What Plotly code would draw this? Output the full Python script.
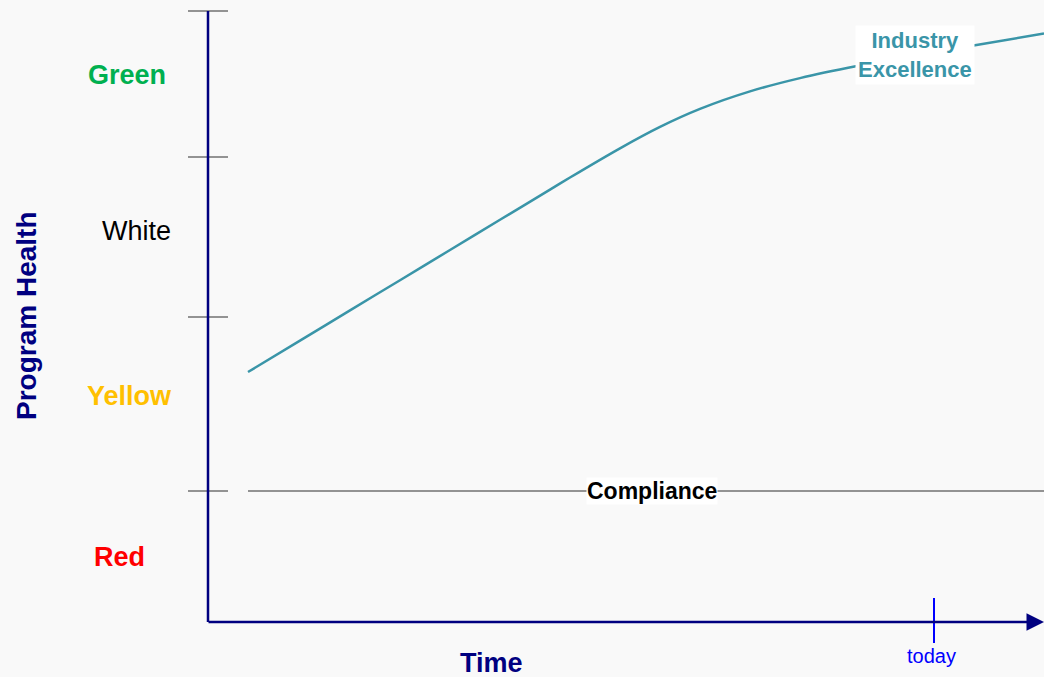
import plotly.graph_objects as go

# ---- data (diagram units: time along x, program health along y; y grows downward) ----
curve_time = [248, 300, 350, 400, 450, 500, 550, 570, 620, 660, 700, 750, 800, 857, 915, 975, 1044]
curve_health = [372, 340.6, 310.4, 280.2, 250, 219.8, 189.6, 177.5, 148.3, 126.9, 108.9, 91.4, 78.1, 66.1, 55.7, 45.2, 33.5]

band_bounds = [11, 157, 317, 491]          # tick marks on the health axis
band_names = ["Green", "White", "Yellow", "Red"]
band_label_y = [75, 231, 396, 557]
band_label_x = [127, 136, 129, 119]
band_colors = ["#00B050", "#000000", "#FFC000", "#FF0000"]
band_bold = [True, False, True, True]

compliance_level = 491
compliance_start, compliance_end = 248, 1044
today_time = 934
axis_origin_time, axis_end_time = 208, 1044
axis_top_health, axis_base_health = 11, 622

NAVY = "#000080"
TEAL = "#3A95A8"
FONT = "Liberation Sans, Arial, sans-serif"

fig = go.Figure()

# health curve
fig.add_trace(go.Scatter(x=curve_time, y=curve_health, mode="lines",
                         line=dict(color=TEAL, width=2.5, shape="spline", smoothing=0.8),
                         hoverinfo="skip"))

# compliance line
fig.add_trace(go.Scatter(x=[compliance_start, compliance_end], y=[compliance_level, compliance_level],
                         mode="lines", line=dict(color="#707070", width=1.3), hoverinfo="skip"))

shapes = []
# band tick marks
for b in band_bounds:
    shapes.append(dict(type="line", xref="x", yref="y", x0=axis_origin_time - 20, x1=axis_origin_time + 20,
                       y0=b, y1=b, line=dict(color="#707070", width=1.3)))
# y axis
shapes.append(dict(type="line", xref="x", yref="y", x0=axis_origin_time, x1=axis_origin_time,
                   y0=axis_top_health, y1=axis_base_health, line=dict(color=NAVY, width=2.5)))
# today tick
shapes.append(dict(type="line", xref="x", yref="y", x0=today_time, x1=today_time,
                   y0=axis_base_health - 24, y1=axis_base_health + 21, line=dict(color="#0000FF", width=2)))

annotations = []
# x axis with arrow
annotations.append(dict(x=axis_end_time, y=axis_base_health, ax=axis_origin_time - 1, ay=axis_base_health,
                        xref="x", yref="y", axref="x", ayref="y", text="", showarrow=True,
                        arrowhead=2, arrowsize=1.4, arrowwidth=2.5, arrowcolor=NAVY))

band_sizes = [27, 27, 27, 27]
for name, lx, ly, c, bold, sz in zip(band_names, band_label_x, band_label_y, band_colors, band_bold, band_sizes):
    annotations.append(dict(x=lx, y=ly, xref="x", yref="y", showarrow=False,
                            text=f"<b>{name}</b>" if bold else name,
                            font=dict(family=FONT, size=sz, color=c)))

annotations.append(dict(x=652, y=compliance_level, xref="x", yref="y", showarrow=False,
                        text="<b>Compliance</b>", bgcolor="#FFFFFF", borderpad=0,
                        font=dict(family=FONT, size=23, color="#000000")))
annotations.append(dict(x=915, y=55, xref="x", yref="y", showarrow=False,
                        text="<b>Industry<br>Excellence</b>", bgcolor="#FFFFFF", borderpad=2,
                        font=dict(family=FONT, size=22, color=TEAL)))
annotations.append(dict(x=931, y=656, xref="x", yref="y", showarrow=False, text="today",
                        font=dict(family=FONT, size=20, color="#0000FF")))
annotations.append(dict(x=491, y=663, xref="x", yref="y", showarrow=False, text="<b>Time</b>",
                        font=dict(family=FONT, size=27, color=NAVY)))
annotations.append(dict(x=26, y=316, xref="x", yref="y", showarrow=False, text="<b>Program Health</b>",
                        textangle=-90, font=dict(family=FONT, size=28, color=NAVY)))

fig.update_layout(
    width=1044, height=677,
    margin=dict(l=0, r=0, t=0, b=0),
    paper_bgcolor="#F9F9F9", plot_bgcolor="#F9F9F9",
    showlegend=False,
    xaxis=dict(range=[0, 1044], visible=False, fixedrange=True),
    yaxis=dict(range=[677, 0], visible=False, fixedrange=True),
    shapes=shapes, annotations=annotations,
)

fig.write_html("out.html",
               config={"displayModeBar": False},
               post_script="document.body.style.margin='0';document.body.style.overflow='hidden';")
